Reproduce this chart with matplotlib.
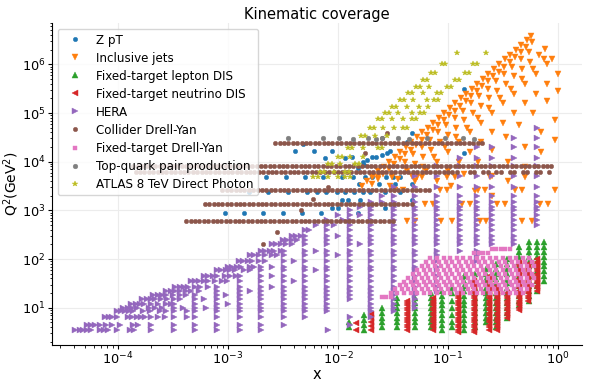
import numpy as np
import matplotlib
matplotlib.use("Agg")
import matplotlib.pyplot as plt
from matplotlib.ticker import FixedLocator, LogFormatterSciNotation

# ---------------- data (all values are log10 of x and of Q^2 [GeV^2]) ----------------

# Z pT
zpt_logx = [-3.03, -2.85, -2.68, -2.50, -2.33, -2.15, -1.82,
            -2.05, -2.00, -1.57,
            -1.96, -1.91, -1.80, -1.33,
            -2.81, -2.64, -2.45, -2.28, -2.19, -2.11, -2.01, -1.94, -1.85, -1.77, -1.71, -1.57, -1.44,
            -1.81, -1.63, -1.48, -1.33,
            -2.65, -2.47, -2.30, -2.14, -1.96, -1.86, -1.75, -1.69, -1.56, -1.50, -1.44,
            -1.82, -1.76, -1.77, -1.74, -1.87, -1.69, -1.65, -1.60, -1.55, -2.12, -1.94,
            -2.39, -2.22, -2.05, -1.53,
            -2.32, -1.37, -1.33, -0.85, -0.85]
zpt_logq2 = [2.95, 2.95, 2.95, 2.95, 2.95, 2.95, 2.95,
             3.05, 3.05, 3.05,
             3.22, 3.22, 3.22, 3.22,
             3.38, 3.38, 3.38, 3.38, 3.38, 3.38, 3.38, 3.38, 3.38, 3.38, 3.38, 3.38, 3.38,
             3.55, 3.55, 3.55, 3.55,
             3.69, 3.69, 3.69, 3.69, 3.69, 3.69, 3.69, 3.69, 3.69, 3.69, 3.69,
             3.87, 3.94, 4.00, 4.04, 4.10, 4.10, 4.10, 4.14, 4.18, 4.08, 4.08,
             4.22, 4.22, 4.22, 4.22,
             4.37, 4.41, 4.59, 5.50, 4.18]

# Inclusive jets: lines of fixed rapidity (logQ2 list, logx list) and low-pT rows
jets_line_logq2 = [
    [3.5, 3.6, 3.7, 3.8, 3.9, 4.0, 4.1, 4.2, 4.3, 4.4, 4.5, 4.6, 4.7, 4.8, 4.9, 5.0, 5.1, 5.2, 5.3, 5.4,
     5.5, 5.6, 5.7, 5.8, 5.9, 6.0, 6.1, 6.2, 6.3, 6.4, 6.5, 6.58],
    [3.55, 3.65, 3.75, 3.85, 3.95, 4.05, 4.15, 4.25, 4.35, 4.45, 4.55, 4.65, 4.75, 4.85, 4.95, 5.05, 5.15,
     5.25, 5.35, 5.45, 5.55, 5.65, 5.75, 5.85, 5.95, 6.05, 6.15, 6.25, 6.35, 6.45],
    [4.0, 4.15, 4.3, 4.45, 4.6, 4.75, 4.9, 5.05, 5.2, 5.35, 5.5, 5.65, 5.8, 5.95, 6.1, 6.25],
    [3.5, 3.65, 3.8, 3.95, 4.1, 4.25, 4.4, 4.55, 4.7, 4.85, 5.0, 5.15, 5.3, 5.45, 5.6, 5.75, 5.9, 6.05, 6.2, 6.32],
    [3.6, 3.8, 4.0, 4.2, 4.4, 4.6, 4.8, 5.0, 5.2, 5.4, 5.6, 5.8, 6.0, 6.1],
    [3.7, 3.9, 4.1, 4.3, 4.5, 4.7, 4.9, 5.1, 5.3, 5.5, 5.7, 5.9, 6.1],
    [3.6, 3.8, 4.0, 4.2, 4.4, 4.6, 4.8, 5.0, 5.2, 5.4, 5.6, 5.8],
    [3.5, 3.75, 4.0, 4.25, 4.5, 4.75, 5.0, 5.25, 5.45],
    [3.4, 3.7, 4.0, 4.3, 4.6, 4.85],
    [3.3, 3.6, 3.9, 4.2, 4.45],
]
jets_line_logx = [
    [-1.785, -1.735, -1.685, -1.635, -1.585, -1.535, -1.485, -1.435, -1.385, -1.335, -1.285, -1.235, -1.185,
     -1.135, -1.085, -1.035, -0.985, -0.935, -0.885, -0.835, -0.785, -0.735, -0.685, -0.635, -0.585, -0.535,
     -0.485, -0.435, -0.385, -0.335, -0.285, -0.245],
    [-1.69, -1.64, -1.59, -1.54, -1.49, -1.44, -1.39, -1.34, -1.29, -1.24, -1.19, -1.14, -1.09, -1.04, -0.99,
     -0.94, -0.89, -0.84, -0.79, -0.74, -0.69, -0.64, -0.59, -0.54, -0.49, -0.44, -0.39, -0.34, -0.29, -0.24],
    [-1.39, -1.315, -1.24, -1.165, -1.09, -1.015, -0.94, -0.865, -0.79, -0.715, -0.64, -0.565, -0.49, -0.415,
     -0.34, -0.265],
    [-1.525, -1.45, -1.375, -1.3, -1.225, -1.15, -1.075, -1.0, -0.925, -0.85, -0.775, -0.7, -0.625, -0.55,
     -0.475, -0.4, -0.325, -0.25, -0.175, -0.115],
    [-1.3, -1.2, -1.1, -1.0, -0.9, -0.8, -0.7, -0.6, -0.5, -0.4, -0.3, -0.2, -0.1, -0.05],
    [-1.325, -1.225, -1.125, -1.025, -0.925, -0.825, -0.725, -0.625, -0.525, -0.425, -0.325, -0.225, -0.125],
    [-1.1, -1.0, -0.9, -0.8, -0.7, -0.6, -0.5, -0.4, -0.3, -0.2, -0.1, 0.0],
    [-0.975, -0.85, -0.725, -0.6, -0.475, -0.35, -0.225, -0.1, 0.0],
    [-0.75, -0.6, -0.45, -0.3, -0.15, -0.025],
    [-0.6, -0.45, -0.3, -0.15, -0.025],
]
jets_row_logq2 = [2.79, 3.13, 3.42, 3.69]
jets_row_logx = [
    [-1.37, -1.30, -1.06, -0.96, -0.71, -0.65, -0.33, -0.24],
    [-1.21, -1.14, -0.87, -0.80, -0.55, -0.48, -0.16, -0.09],
    [-1.48, -1.41, -1.07, -1.01, -0.73, -0.66, -0.39, -0.33, -0.03],
    [-1.69, -1.64, -1.51, -1.28, -1.24, -1.01, -0.94, -0.62, -0.30],
]

# Fixed-target lepton DIS: columns (logx, list of logQ2)
fixl_col_logx = [-1.90, -1.76, -1.60, -1.46, -1.30, -1.15, -1.05, -0.96, -0.85, -0.75, -0.65, -0.56,
                 -0.46, -0.35, -0.26, -0.19, -0.125]
fixl_col_logq2 = [
    [0.61, 0.71],
    [0.55, 0.65, 0.75, 0.85],
    [0.60, 0.70, 0.80, 0.90, 1.00],
    [0.60, 0.70, 0.80, 0.90, 1.00, 1.10, 1.20],
    [0.60, 0.70, 0.80, 0.90, 1.00, 1.10, 1.20],
    [0.60, 0.70, 0.80, 0.90, 1.00, 1.10, 1.20, 1.30],
    [0.55, 0.65, 0.75, 0.85, 0.95, 1.05, 1.15, 1.25, 1.35],
    [0.60, 0.70, 0.85, 1.00, 1.15, 1.30, 1.40],
    [0.55, 0.65, 0.75, 0.85, 0.95, 1.05, 1.15, 1.25, 1.35, 1.45, 1.55, 1.65],
    [0.60, 0.70, 0.80, 0.90, 1.00, 1.10, 1.20, 1.30, 1.40, 1.50, 1.60, 1.70],
    [0.70, 0.80, 0.90, 1.00, 1.10, 1.20, 1.30, 1.40, 1.50, 1.60, 1.70, 1.80],
    [0.60, 0.70, 0.80, 0.90, 1.00, 1.10, 1.20, 1.30, 1.40, 1.50, 1.60, 1.70, 1.80, 1.90],
    [0.80, 0.90, 1.00, 1.10, 1.20, 1.30, 1.40, 1.50, 1.60, 1.70, 1.80, 1.90, 2.00],
    [1.05, 1.15, 1.25, 1.35, 1.45, 1.55, 1.65, 1.75, 1.85, 1.95, 2.05, 2.15, 2.25],
    [1.15, 1.25, 1.35, 1.45, 1.55, 1.65, 1.75, 1.85, 1.95, 2.05, 2.15, 2.25, 2.35],
    [1.35, 1.45, 1.55, 1.65, 1.75, 1.85, 1.95, 2.05, 2.15, 2.25, 2.35],
    [1.55, 1.65, 1.75, 1.85, 1.95, 2.05, 2.15, 2.25, 2.35],
]

# Fixed-target neutrino DIS: columns
fixnu_col_logx = [-1.84, -1.70, -1.37, -1.14, -0.91, -0.76, -0.63, -0.55, -0.46, -0.35, -0.27, -0.19]
fixnu_col_logq2 = [
    [0.55, 0.68],
    [0.55, 0.63, 0.71, 0.80, 0.88],
    [0.55, 0.60, 0.65, 0.70, 0.75, 0.80, 0.85, 0.90, 0.95, 1.00, 1.05, 1.10, 1.15],
    [0.55, 0.60, 0.65, 0.70, 0.75, 0.80, 0.85, 0.90, 0.95, 1.00, 1.05, 1.10, 1.15, 1.20],
    [0.50, 0.55, 0.60, 0.65, 0.70, 0.75, 0.80, 0.85, 0.90, 0.95, 1.00, 1.05, 1.10, 1.15, 1.20, 1.25, 1.30],
    [0.50, 0.55, 0.60, 0.65, 0.70, 0.75, 0.80, 0.85, 0.90, 0.95, 1.00, 1.05, 1.10, 1.15, 1.20, 1.25, 1.30,
     1.35, 1.40, 1.45, 1.50, 1.55],
    [0.55, 0.60, 0.65, 0.70, 0.75, 0.80, 0.85, 0.90, 0.95, 1.00, 1.05, 1.10, 1.15, 1.20, 1.25, 1.30, 1.35,
     1.40, 1.45, 1.50, 1.55, 1.60, 1.65],
    [0.55, 0.60, 0.65, 0.70, 0.75, 0.80, 0.85, 0.90, 0.95, 1.00, 1.05, 1.10, 1.15, 1.20, 1.25, 1.30, 1.35,
     1.40, 1.45],
    [0.80, 0.85, 0.90, 0.95, 1.00, 1.05, 1.10, 1.15, 1.20, 1.25, 1.30],
    [0.95, 1.00, 1.05, 1.10, 1.15, 1.20, 1.25, 1.30, 1.35, 1.40, 1.45, 1.50, 1.55, 1.60, 1.65, 1.70, 1.75,
     1.80, 1.85, 1.90, 1.95],
    [1.15, 1.20, 1.25, 1.30, 1.35, 1.40, 1.45, 1.50, 1.55, 1.60, 1.65, 1.70, 1.75, 1.80, 1.85, 1.90],
    [1.35, 1.40, 1.45, 1.50, 1.55, 1.60, 1.65, 1.70, 1.75, 1.80, 1.85, 1.90, 1.95, 2.00],
]

# HERA: rows of fixed Q2 (logQ2, list of logx)
hera_row_logq2 = [0.544, 0.653, 0.813, 0.929, 1.0, 1.079, 1.176, 1.255, 1.342, 1.431, 1.544, 1.653, 1.778,
                  1.845, 1.954, 2.079, 2.176, 2.301, 2.398, 2.477, 2.602, 2.699, 2.813, 2.903, 3.0, 3.079,
                  3.176, 3.301, 3.477, 3.699, 3.903, 4.079, 4.301, 4.477, 4.699]
hera_row_logx = [
    [-4.39, -4.35, -4.32, -4.28, -4.25, -4.16, -4.13, -4.09, -4.01, -3.89, -3.85, -3.70, -3.49, -3.30, -3.10,
     -2.89, -2.70, -2.09],
    [-4.28, -4.25, -4.21, -4.16, -4.11, -4.05, -3.98, -3.86, -3.82, -3.70, -3.49, -3.30, -3.10, -2.89, -2.70,
     -2.49, -1.89],
    [-4.12, -4.08, -4.05, -4.01, -3.91, -3.87, -3.83, -3.79, -3.75, -3.70, -3.64, -3.57, -3.49, -3.37, -3.30,
     -3.10, -2.89, -2.70, -2.49, -2.30, -1.89, -1.70],
    [-4.01, -3.97, -3.94, -3.90, -3.86, -3.77, -3.71, -3.62, -3.56, -3.49, -3.37, -3.30, -3.10, -2.89, -2.70,
     -2.49, -2.30, -2.10, -1.70, -1.49],
    [-3.95, -3.91, -3.87, -3.83, -3.72, -3.66, -3.60, -3.49, -3.41, -3.30, -3.20, -3.10, -2.89, -2.70, -2.49,
     -2.30, -2.10, -1.70, -1.49, -1.30],
    [-3.88, -3.84, -3.80, -3.76, -3.70, -3.64, -3.56, -3.52, -3.49, -3.30, -3.10, -3.00, -2.89, -2.70, -2.49,
     -2.30, -2.10, -1.70, -1.49, -1.30],
    [-3.78, -3.74, -3.70, -3.66, -3.61, -3.55, -3.49, -3.44, -3.30, -3.22, -3.10, -2.89, -2.70, -2.49, -2.30,
     -2.10, -1.89, -1.70, -1.49, -1.30],
    [-3.68, -3.64, -3.60, -3.56, -3.50, -3.44, -3.38, -3.30, -3.10, -3.02, -2.89, -2.70, -2.49, -2.30, -2.10,
     -1.89, -1.70, -1.49, -1.30],
    [-3.56, -3.52, -3.48, -3.44, -3.38, -3.34, -3.26, -3.10, -2.89, -2.80, -2.70, -2.49, -2.30, -2.10, -1.89,
     -1.70, -1.49, -1.30, -1.10],
    [-3.48, -3.44, -3.40, -3.36, -3.30, -3.25, -3.18, -3.10, -2.89, -2.70, -2.60, -2.49, -2.30, -2.10, -1.89,
     -1.70, -1.49, -1.30, -1.10],
    [-3.34, -3.30, -3.26, -3.22, -3.18, -3.12, -3.05, -3.01, -2.89, -2.70, -2.49, -2.40, -2.30, -2.10, -1.89,
     -1.70, -1.49, -1.30, -1.10],
    [-3.22, -3.18, -3.14, -3.10, -3.03, -2.98, -2.93, -2.89, -2.70, -2.60, -2.49, -2.30, -2.10, -1.89, -1.70,
     -1.49, -1.30, -1.10],
    [-3.10, -3.06, -3.02, -2.98, -2.94, -2.85, -2.80, -2.70, -2.49, -2.30, -2.20, -2.10, -1.89, -1.70, -1.49,
     -1.30, -1.10],
    [-3.00, -2.96, -2.92, -2.88, -2.80, -2.76, -2.70, -2.60, -2.49, -2.30, -2.10, -1.89, -1.70, -1.49, -1.30,
     -1.10],
    [-2.90, -2.86, -2.82, -2.78, -2.72, -2.66, -2.49, -2.40, -2.30, -2.10, -1.89, -1.70, -1.49, -1.30, -1.10,
     -0.74],
    [-2.80, -2.76, -2.72, -2.66, -2.60, -2.55, -2.49, -2.30, -2.10, -2.00, -1.89, -1.70, -1.49, -1.30, -1.10,
     -0.74],
    [-2.70, -2.66, -2.62, -2.58, -2.52, -2.49, -2.30, -2.20, -2.10, -1.89, -1.70, -1.49, -1.30, -1.10, -0.89,
     -0.74],
    [-2.60, -2.56, -2.52, -2.47, -2.42, -2.30, -2.10, -1.89, -1.80, -1.70, -1.49, -1.30, -1.10, -0.89, -0.74,
     -0.60, -0.40],
    [-2.50, -2.46, -2.42, -2.37, -2.30, -2.10, -1.89, -1.70, -1.49, -1.30, -1.10, -0.89, -0.74, -0.60, -0.40],
    [-2.42, -2.38, -2.34, -2.30, -2.10, -2.00, -1.89, -1.70, -1.49, -1.30, -1.10, -0.89, -0.74, -0.60, -0.40],
    [-2.30, -2.26, -2.10, -1.89, -1.70, -1.49, -1.30, -1.10, -0.89, -0.74, -0.60, -0.40],
    [-2.20, -2.10, -2.04, -1.89, -1.70, -1.49, -1.30, -1.10, -0.89, -0.74, -0.60, -0.40, -0.19],
    [-2.10, -1.95, -1.89, -1.70, -1.49, -1.30, -1.10, -0.89, -0.74, -0.60, -0.40, -0.19],
    [-2.00, -1.89, -1.80, -1.70, -1.49, -1.30, -1.10, -0.89, -0.74, -0.60, -0.40, -0.19],
    [-1.89, -1.70, -1.49, -1.30, -1.10, -0.89, -0.74, -0.60, -0.40, -0.19],
    [-1.80, -1.70, -1.49, -1.30, -1.10, -0.89, -0.74, -0.60, -0.40, -0.19],
    [-1.70, -1.60, -1.49, -1.30, -1.10, -0.89, -0.74, -0.60, -0.40, -0.19],
    [-1.60, -1.49, -1.30, -1.10, -0.89, -0.74, -0.60, -0.40, -0.19],
    [-1.49, -1.30, -1.10, -0.89, -0.74, -0.60, -0.40, -0.19],
    [-1.30, -1.10, -0.89, -0.74, -0.60, -0.40, -0.19],
    [-1.10, -0.89, -0.74, -0.60, -0.40, -0.19],
    [-0.89, -0.74, -0.60, -0.40, -0.19],
    [-0.74, -0.60, -0.40, -0.19],
    [-0.40, -0.19],
    [-0.19],
]

# Collider Drell-Yan: rows of fixed Q2
cdy_row_logq2 = [4.39, 3.92, 3.79, 3.42, 3.14, 2.79]
cdy_row_logx = [
    [-2.57, -2.53, -2.49, -2.45, -2.41, -2.37, -2.33, -2.29, -2.25, -2.21, -2.17, -2.13, -2.09, -2.05, -2.01,
     -1.97, -1.93, -1.89, -1.85, -1.81, -1.77, -1.73, -1.69, -1.65, -1.61, -1.57, -1.53, -1.49, -1.45, -1.41,
     -1.37, -1.33, -1.29, -1.25, -1.21, -1.17, -1.13, -1.09, -1.05, -1.01, -0.97, -0.93, -0.89, -0.85, -0.81,
     -0.77, -0.73, -0.69],
    [-3.86, -3.82, -3.78, -3.74, -3.70, -3.66, -3.62, -3.58, -3.54, -3.50, -3.46, -3.42, -3.38, -3.34, -3.30,
     -3.26, -3.22, -3.18, -3.14, -3.10, -3.06, -3.02, -2.98, -2.94, -2.90, -2.86, -2.82, -2.78, -2.74, -2.70,
     -2.66, -2.62, -2.58, -2.54, -2.50, -2.46, -2.42, -2.38, -2.34, -2.30, -2.26, -2.22, -2.18, -2.14, -2.10,
     -2.06, -2.02, -1.98, -1.94, -1.90, -1.86, -1.82, -1.78, -1.74, -1.70, -1.66, -1.62, -1.58, -1.54, -1.50,
     -1.46, -1.42, -1.38, -1.34, -1.30, -1.26, -1.22, -1.18, -1.14, -1.10, -1.06, -1.02, -0.98, -0.94, -0.90,
     -0.86, -0.82, -0.78, -0.74, -0.70, -0.66, -0.62, -0.58, -0.54, -0.50, -0.46, -0.42, -0.38, -0.34, -0.30,
     -0.26, -0.22, -0.18, -0.14, -0.10, -0.06],
    [-3.84, -3.80, -3.76, -3.72, -3.68, -3.64, -3.60, -3.56, -3.52, -3.48, -3.44, -3.40, -3.36, -3.32, -3.28,
     -3.24, -3.20, -3.16, -3.12, -3.08, -3.04, -3.00, -2.96, -2.92, -2.88, -2.84, -2.80, -2.76, -2.72, -2.68,
     -2.64, -2.60, -2.56, -2.52, -2.48, -2.44, -2.40, -2.36, -2.32, -2.28, -2.24, -2.20, -2.16, -2.12, -2.08,
     -2.04, -2.00, -1.96, -1.92, -1.88, -1.84, -1.80, -1.76, -1.72, -1.68, -1.64, -1.60, -1.56, -1.52, -1.48,
     -1.44, -1.40, -1.36, -1.32, -1.28, -1.24, -1.20, -1.16, -1.12, -1.08, -1.04, -1.00, -0.96, -0.92, -0.80,
     -0.76, -0.68, -0.64, -0.56, -0.52, -0.44, -0.40, -0.32, -0.28, -0.20, -0.16, -0.08],
    [-3.05, -3.01, -2.97, -2.93, -2.89, -2.85, -2.81, -2.77, -2.73, -2.69, -2.65, -2.61, -2.57, -2.53, -2.49,
     -2.45, -2.41, -2.37, -2.33, -2.29, -2.25, -2.21, -2.17, -2.13, -2.09, -2.05, -2.01, -1.97, -1.93, -1.89,
     -1.85, -1.81, -1.77, -1.73, -1.69, -1.65, -1.61, -1.57, -1.53, -1.49, -1.45, -1.41, -1.37, -1.33, -1.29,
     -1.25, -1.21, -1.17],
    [-3.21, -3.17, -3.13, -3.09, -3.05, -3.01, -2.97, -2.93, -2.89, -2.85, -2.81, -2.77, -2.73, -2.69, -2.65,
     -2.61, -2.57, -2.53, -2.49, -2.45, -2.41, -2.37, -2.33, -2.29, -2.25, -2.21, -2.17, -2.13, -2.09, -2.05,
     -2.01, -1.97, -1.93, -1.89, -1.85, -1.81, -1.77, -1.73, -1.69, -1.65, -1.61, -1.57, -1.53, -1.49, -1.45,
     -1.41, -1.37, -1.33],
    [-3.38, -3.34, -3.30, -3.26, -3.22, -3.18, -3.14, -3.10, -3.06, -3.02, -2.98, -2.94, -2.90, -2.86, -2.82,
     -2.78, -2.74, -2.70, -2.66, -2.62, -2.58, -2.54, -2.50, -2.46, -2.42, -2.38, -2.34, -2.30, -2.26, -2.22,
     -2.18, -2.14, -2.10, -2.06, -2.02, -1.98, -1.94, -1.90, -1.86, -1.82, -1.78, -1.74, -1.70, -1.66, -1.62,
     -1.58, -1.54, -1.50],
]
cdy_extra_logx = [-2.55, -2.68, -2.23, -2.34, -2.09, -1.75, -1.55, -1.60]
cdy_extra_logq2 = [2.56, 2.31, 3.24, 3.01, 3.48, 4.18, 4.59, 4.49]

# Fixed-target Drell-Yan: rows of fixed Q2
ftdy_row_logq2 = [1.22, 1.30, 1.38, 1.46, 1.54, 1.62, 1.70, 1.78, 1.86, 1.94, 2.02, 2.12, 2.20]
ftdy_row_logx = [
    [-1.60, -1.56, -1.52],
    [-1.52, -1.46, -1.40, -1.34, -1.28, -1.22, -1.16, -1.10, -1.04, -0.98, -0.92, -0.86, -0.80, -0.74, -0.68,
     -0.62, -0.56, -0.50, -0.44, -0.38, -0.32],
    [-1.48, -1.42, -1.36, -1.30, -1.24, -1.18, -1.12, -1.06, -1.00, -0.94, -0.88, -0.82, -0.76, -0.70, -0.64,
     -0.58, -0.52, -0.46, -0.40, -0.34, -0.28],
    [-1.44, -1.38, -1.32, -1.26, -1.20, -1.14, -1.08, -1.02, -0.96, -0.90, -0.84, -0.78, -0.72, -0.66, -0.60,
     -0.54, -0.48, -0.42, -0.36, -0.30, -0.24],
    [-1.40, -1.34, -1.28, -1.22, -1.16, -1.10, -1.04, -0.98, -0.92, -0.86, -0.80, -0.74, -0.68, -0.62, -0.56,
     -0.50, -0.44, -0.38, -0.32, -0.26],
    [-1.36, -1.30, -1.24, -1.18, -1.12, -1.06, -1.00, -0.94, -0.88, -0.82, -0.76, -0.70, -0.64, -0.58, -0.52,
     -0.46, -0.40, -0.34, -0.28, -0.22],
    [-1.32, -1.26, -1.20, -1.14, -1.08, -1.02, -0.96, -0.90, -0.84, -0.78, -0.72, -0.66, -0.60, -0.54, -0.48,
     -0.42, -0.36, -0.30, -0.24],
    [-1.28, -1.22, -1.16, -1.10, -1.04, -0.98, -0.92, -0.86, -0.80, -0.74, -0.68, -0.62, -0.56, -0.50, -0.44,
     -0.38, -0.32, -0.26],
    [-1.24, -1.18, -1.12, -1.06, -1.00, -0.94, -0.88, -0.82, -0.76, -0.70, -0.64, -0.58, -0.52, -0.46, -0.40,
     -0.34, -0.28, -0.22],
    [-1.20, -1.14, -1.08, -1.02, -0.96, -0.90, -0.84, -0.78, -0.72, -0.66, -0.60, -0.54, -0.48, -0.42, -0.36,
     -0.30, -0.24],
    [-1.16, -1.10, -1.04, -0.98, -0.92, -0.86, -0.80, -0.74, -0.68, -0.62, -0.56, -0.50, -0.44, -0.38, -0.32,
     -0.26],
    [-0.76, -0.72, -0.68, -0.64],
    [-0.60, -0.56, -0.52, -0.48, -0.44],
]

# Top-quark pair production
top_logx = [-2.45, -2.14, -1.99, -1.86, -1.73, -1.65, -1.60, -1.45, -1.35, -1.19, -1.03, -0.86, -0.76]
top_logq2 = [4.49, 4.49, 4.49, 4.47, 4.49, 4.47, 4.49, 4.49, 4.47, 4.49, 4.49, 4.49, 4.47]

# ATLAS 8 TeV direct photon: rows of fixed E_T^2
pho_row_logq2 = [6.24, 6.01, 5.83, 5.68, 5.54, 5.42, 5.27, 5.13, 5.00, 4.88, 4.70, 4.53, 4.29, 4.10,
                 3.96, 3.79, 3.69]
pho_row_logx = [
    [-0.918, -0.655],
    [-1.055, -1.027, -0.773, -0.736],
    [-1.155, -1.118, -0.845, -0.809],
    [-1.227, -1.191, -0.936, -0.900],
    [-1.291, -1.255, -1.173, -1.009, -0.973],
    [-1.364, -1.327, -1.227, -1.100, -1.064],
    [-1.436, -1.400, -1.318, -1.191, -1.127, -1.091],
    [-1.509, -1.473, -1.373, -1.264, -1.182],
    [-1.573, -1.536, -1.455, -1.327, -1.255, -1.218],
    [-1.636, -1.600, -1.509, -1.409, -1.327, -1.291],
    [-1.709, -1.673, -1.591, -1.491, -1.409, -1.373],
    [-1.791, -1.755, -1.664, -1.555],
    [-1.909, -1.873, -1.773, -1.636, -1.600],
    [-2.000, -1.964, -1.891, -1.773],
    [-2.091, -2.055, -1.982, -1.845, -1.809],
    [-2.164, -2.127, -2.036, -1.936, -1.900],
    [-2.227, -2.182, -2.091, -2.000, -1.936, -1.891],
]

labels = ["Z pT", "Inclusive jets", "Fixed-target lepton DIS", "Fixed-target neutrino DIS", "HERA",
          "Collider Drell-Yan", "Fixed-target Drell-Yan", "Top-quark pair production",
          "ATLAS 8 TeV Direct Photon"]

x_major_ticks = [1e-4, 1e-3, 1e-2, 1e-1, 1e0]
y_major_ticks = [1e1, 1e2, 1e3, 1e4, 1e5, 1e6]


# ---------------- helpers ----------------
def from_rows(row_q, row_x):
    xs, qs = [], []
    for q, xl in zip(row_q, row_x):
        xs += list(xl)
        qs += [q] * len(xl)
    return 10 ** np.array(xs), 10 ** np.array(qs)


def from_cols(col_x, col_q):
    xs, qs = [], []
    for x, ql in zip(col_x, col_q):
        xs += [x] * len(ql)
        qs += list(ql)
    return 10 ** np.array(xs), 10 ** np.array(qs)


def from_pairs(lx, lq):
    return 10 ** np.array(lx), 10 ** np.array(lq)


def cat(*pairs):
    return (np.concatenate([p[0] for p in pairs]), np.concatenate([p[1] for p in pairs]))


zpt = from_pairs(zpt_logx, zpt_logq2)
jets = cat(*[from_pairs(lx, lq) for lx, lq in zip(jets_line_logx, jets_line_logq2)],
           from_rows(jets_row_logq2, jets_row_logx))
fixl = from_cols(fixl_col_logx, fixl_col_logq2)
fixnu = from_cols(fixnu_col_logx, fixnu_col_logq2)
hera = from_rows(hera_row_logq2, hera_row_logx)
cdy = cat(from_rows(cdy_row_logq2, cdy_row_logx), from_pairs(cdy_extra_logx, cdy_extra_logq2))
ftdy = from_rows(ftdy_row_logq2, ftdy_row_logx)
top = from_pairs(top_logx, top_logq2)
pho = from_rows(pho_row_logq2, pho_row_logx)

datasets = [zpt, jets, fixl, fixnu, hera, cdy, ftdy, top, pho]
markers = ["o", "v", "^", "<", ">", "o", "s", "o", "*"]
sizes = [3.2, 3.8, 3.8, 3.8, 3.8, 3.2, 3.3, 3.4, 4.3]
colors = ["C0", "C1", "C2", "C3", "C4", "C5", "C6", "C7", "C8"]

# ---------------- figure ----------------
fig = plt.figure(figsize=(5.91, 3.87), dpi=100)
ax = fig.add_axes([0.088, 0.109, 0.897, 0.832])

for (x, q), m, s, c, lab in zip(datasets, markers, sizes, colors, labels):
    ax.plot(x, q, linestyle="none", marker=m, markersize=s, color=c, label=lab,
            markeredgewidth=0.3)

ax.set_xscale("log")
ax.set_yscale("log")
ax.set_xlim(10 ** -4.6, 10 ** 0.22)
ax.set_ylim(10 ** 0.24, 10 ** 6.852)
ax.xaxis.set_major_locator(FixedLocator(x_major_ticks))
ax.yaxis.set_major_locator(FixedLocator(y_major_ticks))
ax.xaxis.set_major_formatter(LogFormatterSciNotation())
ax.yaxis.set_major_formatter(LogFormatterSciNotation())

ax.grid(True, which="major", color="#ececec", linewidth=0.8)
ax.set_axisbelow(True)
for side in ("top", "right"):
    ax.spines[side].set_visible(False)
ax.tick_params(axis="both", which="major", labelsize=9.3, length=3, pad=1.5)
ax.tick_params(axis="both", which="minor", length=1.8, labelbottom=False, labelleft=False)

ax.set_title("Kinematic coverage", fontsize=10.5, pad=3)
ax.set_xlabel("x", fontsize=10.5)
ax.set_ylabel(r"Q$^2$(GeV$^2$)", fontsize=10)
ax.xaxis.set_label_coords(0.5, -0.068)
ax.yaxis.set_label_coords(-0.058, 0.5)

ax.legend(loc="upper left", fontsize=8.6, numpoints=1, markerscale=1.0, framealpha=0.8,
          labelspacing=0.42)

fig.savefig("out.png", dpi=100)
